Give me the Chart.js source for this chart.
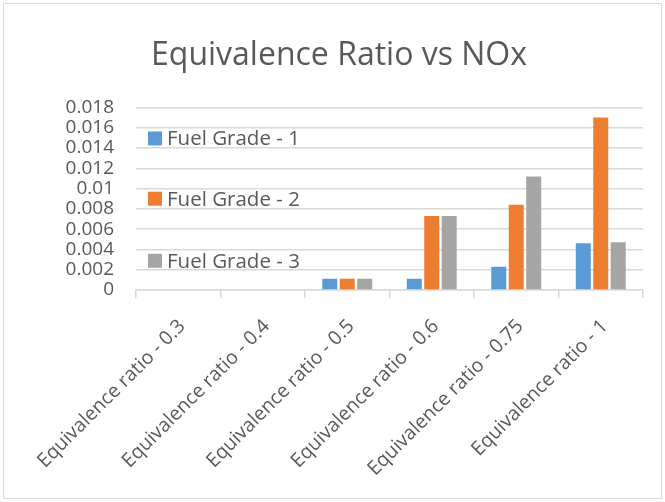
<!DOCTYPE html>
<html>
<head>
<meta charset="utf-8">
<script src="https://cdn.jsdelivr.net/npm/chart.js@4.4.0/dist/chart.umd.min.js"></script>
<style>
  html, body { margin: 0; padding: 0; background: #fff; }
  #wrap { width: 665px; height: 502px; position: relative; }
</style>
</head>
<body>
<div id="wrap"><canvas id="c" width="665" height="502"></canvas></div>
<script>
// --- dados ---
const categories = [
  "Equivalence ratio - 0.3",
  "Equivalence ratio - 0.4",
  "Equivalence ratio - 0.5",
  "Equivalence ratio - 0.6",
  "Equivalence ratio - 0.75",
  "Equivalence ratio - 1"
];
const seriesNames = ["Fuel Grade - 1", "Fuel Grade - 2", "Fuel Grade - 3"];
const grade1 = [0, 0, 0.0011, 0.0011, 0.0023, 0.0046];
const grade2 = [0, 0, 0.0011, 0.0073, 0.0084, 0.0170];
const grade3 = [0, 0, 0.0011, 0.0073, 0.0112, 0.0047];
const yTicks = ["0", "0.002", "0.004", "0.006", "0.008", "0.01", "0.012", "0.014", "0.016", "0.018"];

const colors = ["#5B9BD5", "#ED7D31", "#A5A5A5"];
const textColor = "#595959";
const gridColor = "#D9D9D9";
const fontFam = "'Open Sans', 'Liberation Sans', sans-serif";

// legenda dentro da área do gráfico (como no Excel)
const insideLegend = {
  id: "insideLegend",
  afterDraw(chart) {
    const ctx = chart.ctx;
    const a = chart.chartArea;
    const fracs = [0.17, 0.5, 0.84];
    ctx.save();
    ctx.font = "20.5px " + fontFam;
    ctx.textBaseline = "middle";
    chart.data.datasets.forEach((ds, i) => {
      const y = a.top + (a.bottom - a.top) * fracs[i];
      ctx.fillStyle = ds.backgroundColor;
      ctx.fillRect(a.left + 12, y - 7, 14, 14);
      ctx.fillStyle = textColor;
      ctx.fillText(ds.label, a.left + 31, y + 1);
    });
    ctx.restore();
  }
};

// borda externa clara
const outerBorder = {
  id: "outerBorder",
  beforeDraw(chart) {
    const ctx = chart.ctx;
    ctx.save();
    ctx.fillStyle = "#fff";
    ctx.fillRect(0, 0, chart.width, chart.height);
    ctx.strokeStyle = gridColor;
    ctx.lineWidth = 1;
    ctx.strokeRect(3.5, 3.5, chart.width - 7, chart.height - 7);
    ctx.restore();
  }
};

new Chart(document.getElementById("c"), {
  type: "bar",
  data: {
    labels: categories,
    datasets: [grade1, grade2, grade3].map((d, i) => ({
      label: seriesNames[i],
      data: d,
      backgroundColor: colors[i],
      borderWidth: 0,
      categoryPercentage: 0.62,
      barPercentage: 0.86
    }))
  },
  options: {
    responsive: false,
    animation: false,
    devicePixelRatio: 1,
    // esquerda maior que a direita para centralizar o título como no original
    layout: { padding: { left: 35, right: 22, bottom: 0, top: 0 } },
    plugins: {
      legend: { display: false },
      tooltip: { enabled: false },
      title: {
        display: true,
        text: "Equivalence Ratio vs NOx",
        color: textColor,
        font: { family: fontFam, size: 32, weight: "normal" },
        padding: { top: 37, bottom: 32 }
      }
    },
    scales: {
      x: {
        grid: { offset: true, drawOnChartArea: false, drawTicks: true, tickLength: 8, color: gridColor, lineWidth: 1.5 },
        border: { color: gridColor, width: 1.5 },
        ticks: {
          color: textColor,
          font: { family: fontFam, size: 19.5 },
          maxRotation: 45,
          minRotation: 45,
          autoSkip: false,
          padding: 17,
          labelOffset: 4
        },
        afterFit(scale) { scale.height = 212; }
      },
      y: {
        min: 0,
        max: 0.018,
        grid: { color: gridColor, lineWidth: 1.5, drawTicks: false },
        border: { display: false },
        ticks: {
          stepSize: 0.002,
          autoSkip: false,
          color: textColor,
          font: { family: fontFam, size: 19 },
          padding: 22,
          callback: (v, i) => yTicks[i]
        },
        afterFit(scale) { scale.width = 101; }
      }
    }
  },
  plugins: [outerBorder, insideLegend]
});
</script>
</body>
</html>
